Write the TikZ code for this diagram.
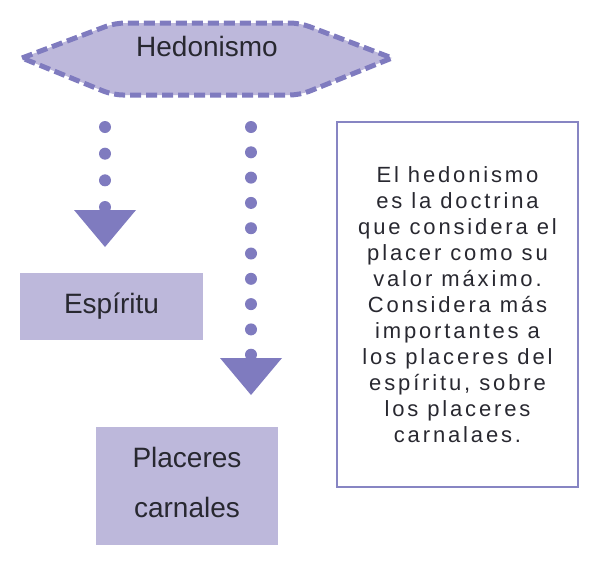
\documentclass[tikz,border=0pt]{standalone}
\usepackage{fontspec}
\setmainfont{Liberation Sans}
\usetikzlibrary{arrows.meta}
\definecolor{lilac}{RGB}{189,184,219}
\definecolor{dotviolet}{RGB}{127,123,191}
\definecolor{noteline}{RGB}{135,133,195}
\definecolor{textgray}{RGB}{40,40,48}

\begin{document}
\begin{tikzpicture}[x=1pt, y=-1pt,
  cellbox/.style={fill=lilac, text=textgray, inner sep=0pt, align=center, font=\fontsize{28}{50}\selectfont},
  dotarrow/.style={dotviolet, line width=12pt, line cap=round, dash pattern=on 0pt off #1,
    -{Triangle[width=62pt, length=37pt, line width=0pt]}}]
  \useasboundingbox (0,0) rectangle (609,565);
  % draw dashed hexagon
  \draw[fill=lilac, draw=dotviolet, line width=5pt, dash pattern=on 11pt off 5pt]
    (22,58) [rounded corners=10pt] -- (115,23) -- (300,23) [sharp corners] -- (392,58)
    [rounded corners=10pt] -- (300,95) -- (113,95) [sharp corners] -- cycle;
  \node[text=textgray, font=\fontsize{28}{34}\selectfont] (hedon) at (207,46) {Hedonismo};
  % draw boxes
  \node[cellbox, minimum width=183pt, minimum height=67pt] (espiritu) at (111.5,306.5) {Espíritu};
  \node[cellbox, minimum width=182pt, minimum height=118pt, text depth=8pt] (placeres) at (187,486) {Placeres\\carnales};
  \node[draw=noteline, line width=1.5pt, text=textgray, inner sep=0pt, align=center,
    minimum width=241pt, minimum height=365pt,
    font=\fontsize{22}{26}\selectfont\addfontfeature{LetterSpace=13}] (nota) at (457.5,304.5)
    {El hedonismo\\es la doctrina\\que considera el\\placer como su\\valor máximo.\\Considera más\\importantes a\\los placeres del\\espíritu, sobre\\los placeres\\carnalaes.};
  % draw dotted arrows
  \coordinate (leftstart) at (105,127);
  \coordinate (leftend) at (105,247);
  \coordinate (rightstart) at (251,127);
  \coordinate (rightend) at (251,395);
  \draw[dotarrow=26.67pt] (leftstart) -- (leftend);
  \draw[dotarrow=25.3pt] (rightstart) -- (rightend);
\end{tikzpicture}
\end{document}
